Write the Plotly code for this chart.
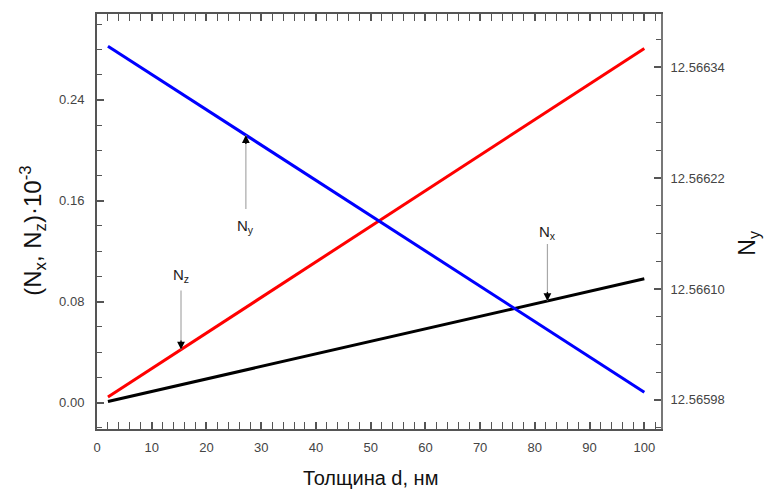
import numpy as np
import plotly.graph_objects as go

# ---- data ----
thickness = [2, 100]                    # d, nm
n_z = [0.0043, 0.2807]                  # left axis, x1e-3
n_x = [0.0008, 0.0981]                  # left axis, x1e-3
n_y = [12.566363, 12.5659883]           # right axis

# annotation labels and the d value where each arrow touches its line
labels = ["N<sub>y</sub>", "N<sub>z</sub>", "N<sub>x</sub>"]
label_d = [27.2, 15.35, 82.3]
label_series = ["y", "z", "x"]

FONT = "Arial, Liberation Sans, sans-serif"
AX = "#555555"

fig = go.Figure()
fig.add_trace(go.Scatter(x=thickness, y=n_z, mode="lines",
                         line=dict(color="#ff0000", width=3), showlegend=False))
fig.add_trace(go.Scatter(x=thickness, y=n_x, mode="lines",
                         line=dict(color="#000000", width=3), showlegend=False))
fig.add_trace(go.Scatter(x=thickness, y=n_y, mode="lines", yaxis="y2",
                         line=dict(color="#0000ff", width=3), showlegend=False))

series = {"z": (n_z, "y"), "x": (n_x, "y"), "y": (n_y, "y2")}
# pixel offset of label centre from arrow tip, and gap label->shaft
ay_off = {"y": 91, "z": -74, "x": -68}
gap = {"y": 6, "z": 4, "x": 0}
HALF_BOX = 11

anns = []
for lab, d, s in zip(labels, label_d, label_series):
    vals, yref = series[s]
    yv = float(np.interp(d, thickness, vals))
    shaft_len = abs(ay_off[s]) - HALF_BOX
    # gray shaft with label
    anns.append(dict(x=d, y=yv, xref="x", yref=yref, text=lab, showarrow=True,
                     ax=0, ay=ay_off[s], arrowhead=0, arrowwidth=1.2,
                     arrowcolor="#a8a8a8", startstandoff=gap[s],
                     font=dict(family=FONT, size=15, color="#222222")))
    # black arrow head (its label copy is transparent)
    anns.append(dict(x=d, y=yv, xref="x", yref=yref, text=lab, showarrow=True,
                     ax=0, ay=ay_off[s], arrowhead=2, arrowsize=1.2,
                     arrowwidth=1.3, arrowcolor="#000000",
                     startstandoff=shaft_len - 9,
                     font=dict(family=FONT, size=15, color="rgba(0,0,0,0)")))

# axis titles
anns.append(dict(x=0.485, y=-0.118, xref="paper", yref="paper", showarrow=False,
                 text="Толщина d, нм", xanchor="center", yanchor="middle",
                 font=dict(family=FONT, size=20, color="#111111")))
anns.append(dict(x=-0.115, y=0.478, xref="paper", yref="paper", showarrow=False,
                 text="(N<sub>x</sub>, N<sub>z</sub>)·10<sup>-3</sup>",
                 textangle=-90, xanchor="center", yanchor="middle",
                 font=dict(family=FONT, size=24, color="#111111")))
anns.append(dict(x=1.155, y=0.45, xref="paper", yref="paper", showarrow=False,
                 text="N<sub>y</sub>", textangle=-90, xanchor="center",
                 yanchor="middle",
                 font=dict(family=FONT, size=23, color="#111111")))

tickfont = dict(family=FONT, size=13, color="#444444")

fig.update_layout(
    width=767, height=492,
    margin=dict(l=97, r=106, t=12, b=63),
    plot_bgcolor="white", paper_bgcolor="white",
    annotations=anns,
    xaxis=dict(range=[0, 103.05], tick0=0, dtick=10, ticks="inside", ticklen=7,
               tickwidth=1.5, tickcolor=AX, showline=True, linecolor=AX,
               linewidth=2, mirror="allticks", showgrid=False, zeroline=False,
               tickfont=tickfont, ticklabelstandoff=5,
               minor=dict(dtick=2, ticks="inside", ticklen=4, tickcolor=AX,
                          tickwidth=1.2, showgrid=False)),
    yaxis=dict(range=[-0.021, 0.308], tick0=0, dtick=0.08, tickformat=".2f",
               ticks="inside", ticklen=7, tickwidth=1.5, tickcolor=AX,
               showline=True, linecolor=AX, linewidth=2, showgrid=False,
               zeroline=False, tickfont=tickfont, ticklabelstandoff=8,
               minor=dict(dtick=0.02, ticks="inside", ticklen=5, tickcolor=AX,
                          tickwidth=1.2, showgrid=False)),
    yaxis2=dict(range=[12.5659484, 12.5663978], overlaying="y", side="right",
                tick0=12.56598, dtick=0.00012, tickformat=".5f",
                ticks="inside", ticklen=7, tickwidth=1.5, tickcolor=AX,
                showline=True, linecolor="#777777", linewidth=2, showgrid=False,
                zeroline=False, tickfont=tickfont, ticklabelstandoff=5,
                minor=dict(dtick=0.00003, tick0=12.56598, ticks="inside",
                           ticklen=5, tickcolor=AX, tickwidth=1.2,
                           showgrid=False)),
)

fig.write_html("out.html")
